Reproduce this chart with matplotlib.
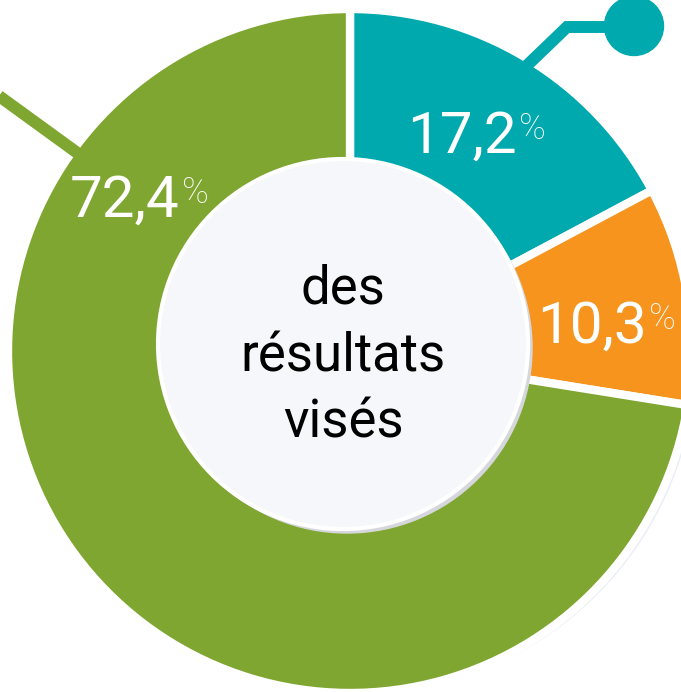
import numpy as np
import matplotlib.pyplot as plt
from matplotlib.patches import Circle

# Data
labels = ['17,2', '10,3', '72,4']
shares = [17.2, 10.3, 72.4]
colors = ['#00a9ad', '#f7941e', '#7fa630']
center_lines = ['des', 'résultats', 'visés']

W, H = 681, 692
fig = plt.figure(figsize=(W / 100, H / 100), dpi=100)
ax = fig.add_axes([0, 0, 1, 1])

# geometry in pixels (y measured from bottom)
cx, cy = 350, H - 351
R = 342

# soft bluish shadow behind the ring (lower right)
ax.add_patch(Circle((cx + 8, cy - 4), R - 4, color='#e9edf5', zorder=0))
ax.add_patch(Circle((cx, cy), R, color='white', zorder=0.5))

wedges, _ = ax.pie(shares, colors=colors, startangle=90, counterclock=False,
                   center=(cx, cy), radius=R, normalize=True,
                   wedgeprops=dict(width=180, edgecolor='white', linewidth=6))
for w in wedges:
    w.set_zorder(1)

# leader lines
teal_mid = np.deg2rad(shares[0] / 2 * 3.6)
x0, y0 = cx + (R - 24) * np.sin(teal_mid), cy + (R - 24) * np.cos(teal_mid)
ax.plot([x0, 567, 634], [y0, H - 27, H - 27], color=colors[0], lw=8.6,
        solid_capstyle='butt', solid_joinstyle='miter', zorder=2)
ax.add_patch(Circle((634, H - 26), 29.5, color=colors[0], zorder=2))

ga = np.deg2rad(306)
t = np.array([R - 24, 470])
ax.plot(cx + t * np.sin(ga), cy + t * np.cos(ga), color=colors[2], lw=8.6,
        solid_capstyle='butt', zorder=2)

# center disc with shadow
ax.add_patch(Circle((347, H - 348), 185, color='#d6d7dc', zorder=3))
ax.add_patch(Circle((343, H - 344), 185, facecolor='#f6f7fa', edgecolor='white',
                    lw=3, zorder=4))

ax.set_xlim(0, W)
ax.set_ylim(0, H)
ax.set_aspect('equal')
ax.axis('off')

# percentage labels: (left x, baseline y) in pixels from top
label_pos = [(407, 153), (537, 343), (70, 217)]
renderer = fig.canvas.get_renderer()
for lab, (lx, by) in zip(labels, label_pos):
    t1 = ax.text(lx, H - by, lab, color='white', fontsize=42, family='Roboto',
                 ha='left', va='baseline', zorder=5)
    bb = t1.get_window_extent(renderer)
    ax.text(bb.x1 + 2, H - by + 42, '%', color='white', fontsize=26,
            family='Roboto', fontweight='light', ha='left', va='top', zorder=5)

for line, by in zip(center_lines, [303, 372, 438]):
    ax.text(343, H - by, line, color='black', fontsize=38, family='Roboto',
            ha='center', va='baseline', zorder=5)

fig.savefig('out.png', dpi=100)
